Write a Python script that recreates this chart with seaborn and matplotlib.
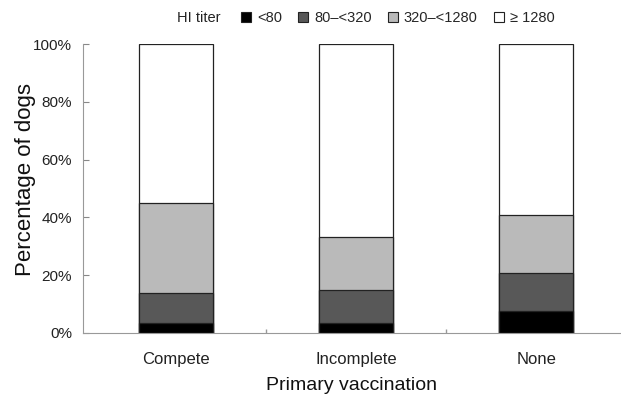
import numpy as np
import pandas as pd
import matplotlib
matplotlib.use("Agg")
import matplotlib.pyplot as plt
import seaborn as sns
from matplotlib.patches import Patch

categories = ["Compete", "Incomplete", "None"]
series_names = ["<80", "80\u2013<320", "320\u2013<1280", "\u2265 1280"]
lt80 = [3.6, 3.6, 7.6]
s80_320 = [10.1, 11.3, 13.0]
s320_1280 = [31.4, 18.4, 20.4]
ge1280 = [54.9, 66.7, 59.0]
y_ticks = [0, 20, 40, 60, 80, 100]
y_tick_labels = ["0%", "20%", "40%", "60%", "80%", "100%"]

colors = ["#000000", "#585858", "#bababa", "#ffffff"]

sns.set_theme(style="white")
plt.rcParams["font.family"] = ["Liberation Sans", "DejaVu Sans"]

fig = plt.figure(figsize=(6.21, 3.96), dpi=100)
ax = fig.add_axes([83/621, 1-333/396, 1-83/621, (333-44)/396])

stack = np.array([lt80, s80_320, s320_1280, ge1280])
cum = np.cumsum(stack, axis=0)

# Draw from the top of the stack down so smaller cumulative bars overlay
for i in range(3, -1, -1):
    df = pd.DataFrame({"cat": categories, "val": cum[i]})
    sns.barplot(data=df, x="cat", y="val", ax=ax, color=colors[i],
                width=0.41, edgecolor="#222222", linewidth=0.9,
                saturation=1, order=categories)

ax.set_xlim(-0.517, 2.47)
ax.set_ylim(0, 100)
ax.set_yticks(y_ticks)
ax.set_yticklabels(y_tick_labels, fontsize=11, color="#222222")
ax.tick_params(axis="y", direction="in", length=4, width=0.8, color="#888888", left=True, pad=8)
ax.tick_params(axis="x", length=0, labelsize=12, labelcolor="#222222", pad=14)
ax.set_xticks([0.5, 1.5], minor=True)
ax.tick_params(axis="x", which="minor", direction="in", length=3, color="#999999", bottom=True)

for s in ["top", "right"]:
    ax.spines[s].set_visible(False)
for s in ["left", "bottom"]:
    ax.spines[s].set_color("#999999")
    ax.spines[s].set_linewidth(0.8)

ax.set_xlabel("Primary vaccination", fontsize=14, labelpad=7, color="#111111")
ax.set_ylabel("Percentage of dogs", fontsize=16, color="#111111")
ax.yaxis.set_label_coords((36-83)/(621-83), 0.53)

handles = [Patch(facecolor=c, edgecolor="#222222", linewidth=0.8) for c in colors]
fig.text(177/621, 1-18/396, "HI titer", fontsize=10.5, va="center", ha="left", color="#222222")
fig.legend(handles, series_names, loc="center left", bbox_to_anchor=(241/621, 1-18/396),
           ncol=4, frameon=False, fontsize=10.5, handlelength=0.7, handleheight=0.7,
           handletextpad=0.4, columnspacing=1.1, borderaxespad=0, borderpad=0)

fig.savefig("out.png", dpi=100)
